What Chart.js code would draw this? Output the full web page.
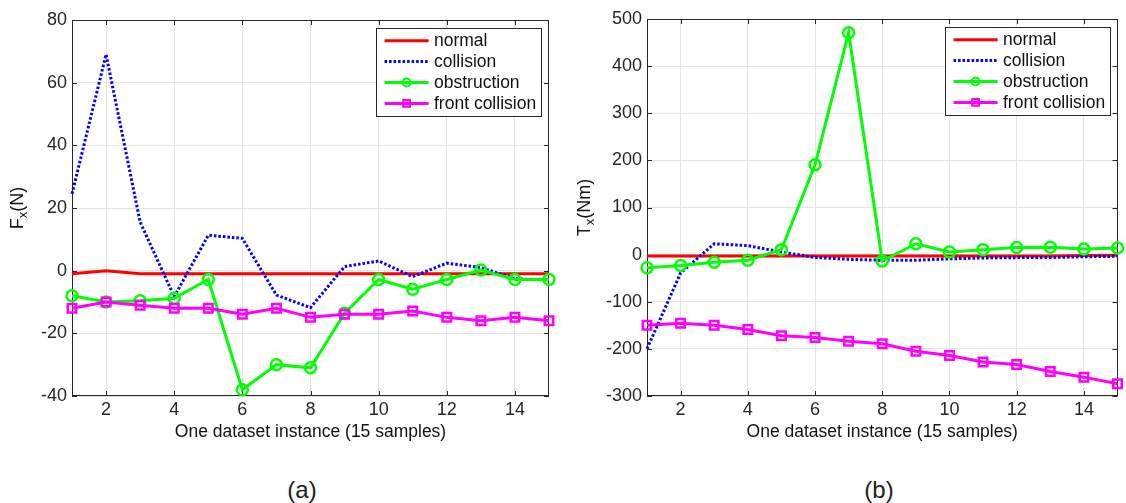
<!DOCTYPE html>
<html>
<head>
<meta charset="utf-8">
<script src="https://cdn.jsdelivr.net/npm/chart.js@4/dist/chart.umd.min.js"></script>
<style>
  html, body { margin: 0; padding: 0; background: #fff; }
  body { width: 1126px; height: 503px; position: relative; overflow: hidden; font-family: "Liberation Sans", Arial, sans-serif; }
  .panel { position: absolute; top: 0; width: 563px; height: 445px; }
  .cap { position: absolute; top: 476px; line-height: 28px; font-size: 24px; color: #222; transform: translateX(-50%); }
</style>
</head>
<body>
<div class="panel" style="left:0"><canvas id="fx" width="563" height="445"></canvas></div>
<div class="panel" style="left:563px"><canvas id="tx" width="563" height="445"></canvas></div>
<div class="cap" style="left:302px">(a)</div>
<div class="cap" style="left:879px">(b)</div>
<script>
// --- data ---
const samples = [1, 2, 3, 4, 5, 6, 7, 8, 9, 10, 11, 12, 13, 14, 15];
const seriesNames = ['normal', 'collision', 'obstruction', 'front collision'];

// (a) force Fx in N
const fxNormal      = [-1, 0, -1, -1, -1, -1, -1, -1, -1, -1, -1, -1, -1, -1, -1];
const fxCollision   = [24.5, 69, 15.5, -8.3, 11.3, 10.3, -7.8, -11.8, 1.3, 3.1, -1.9, 2.4, 1, -2.6, -3];
const fxObstruction = [-8, -10, -9.6, -8.8, -2.8, -38, -30, -31, -13.6, -2.8, -5.9, -2.8, 0.2, -2.8, -2.8];
const fxFront       = [-12, -10, -11, -12, -12, -13.9, -12, -14.9, -13.9, -13.9, -12.9, -14.9, -16, -14.9, -16];

// (b) torque Tx in Nm
const txNormal      = [-3, -3, -3, -3, -3, -3, -3, -3, -3, -3, -3, -3, -3, -2, -1.5];
const txCollision   = [-200, -39, 23, 19, 5.5, -6, -10, -12, -12, -9, -7, -6.4, -6, -4.5, -3.5];
const txObstruction = [-28, -23, -16, -12, 10.6, 190.6, 471, -13.6, 23, 5.5, 10.6, 15, 15.5, 12, 14];
const txFront       = [-150, -145.5, -150, -159, -172, -176, -184, -189, -205, -214, -228, -233, -248, -260, -274];

// tick labels
const xTickValues  = [2, 4, 6, 8, 10, 12, 14];
const fxTickValues = [-40, -20, 0, 20, 40, 60, 80];
const txTickValues = [-300, -200, -100, 0, 100, 200, 300, 400, 500];

const FONT = '"Liberation Sans", Arial, sans-serif';
const AXIS_COLOR = '#262626';

// line look per series (MATLAB style: solid, dotted, -o, -s)
const styles = [
  { color: '#ff0000', dash: [], pointStyle: false, radius: 0, order: 4 },
  { color: '#0000ff', dash: [2.5, 2], pointStyle: false, radius: 0, order: 3 },
  { color: '#00ff00', dash: [], pointStyle: 'circle', radius: 5.5, order: 2 },
  { color: '#ff00ff', dash: [], pointStyle: 'rect', radius: 6, order: 1 }
];

function toPoints(values) {
  return values.map((v, i) => ({ x: samples[i], y: v }));
}

// box, inward ticks, legend and y-title with subscript
const matlabAxes = {
  id: 'matlabAxes',
  beforeDatasetsDraw(chart) {
    const { ctx, chartArea: a, scales: { x, y } } = chart;
    ctx.save();
    ctx.strokeStyle = AXIS_COLOR;
    ctx.lineWidth = 1;
    ctx.beginPath();
    x.ticks.forEach(t => {
      const px = Math.round(x.getPixelForValue(t.value)) + 0.5;
      ctx.moveTo(px, a.bottom); ctx.lineTo(px, a.bottom - 5);
      ctx.moveTo(px, a.top); ctx.lineTo(px, a.top + 5);
    });
    y.ticks.forEach(t => {
      const py = Math.round(y.getPixelForValue(t.value)) + 0.5;
      ctx.moveTo(a.left, py); ctx.lineTo(a.left + 5, py);
      ctx.moveTo(a.right, py); ctx.lineTo(a.right - 5, py);
    });
    ctx.stroke();
    ctx.strokeRect(Math.round(a.left) + 0.5, Math.round(a.top) + 0.5,
                   Math.round(a.width) - 1, Math.round(a.height) - 1);
    ctx.restore();
  },
  afterDraw(chart, args, opts) {
    const { ctx, chartArea: a } = chart;
    ctx.save();

    // legend box
    const bw = 165, bh = 88;
    const bx = Math.round(a.right - 8 - bw), by = Math.round(a.top + 7.5);
    ctx.fillStyle = '#fff';
    ctx.fillRect(bx, by, bw, bh);
    ctx.strokeStyle = AXIS_COLOR;
    ctx.lineWidth = 1;
    ctx.strokeRect(bx + 0.5, by + 0.5, bw, bh);
    ctx.font = '17.5px ' + FONT;
    ctx.textBaseline = 'middle';
    ctx.textAlign = 'left';
    chart.data.datasets.forEach((ds, i) => {
      const ry = by + 12.7 + i * 20.9;
      const x0 = bx + 8.6, x1 = bx + 52.6, mx = (x0 + x1) / 2;
      ctx.strokeStyle = ds.borderColor;
      ctx.lineWidth = ds.borderWidth;
      ctx.setLineDash(ds.borderDash || []);
      ctx.beginPath(); ctx.moveTo(x0, ry); ctx.lineTo(x1, ry); ctx.stroke();
      ctx.setLineDash([]);
      ctx.lineWidth = 2.2;
      if (ds.pointStyle === 'circle') {
        ctx.beginPath(); ctx.arc(mx, ry, 4, 0, Math.PI * 2); ctx.stroke();
      } else if (ds.pointStyle === 'rect') {
        ctx.strokeRect(mx - 3.3, ry - 3.3, 6.6, 6.6);
      }
      ctx.fillStyle = '#111';
      ctx.fillText(ds.label, bx + 58, ry + 0.5);
    });

    // rotated y title: main + subscript + unit
    const t = opts.yTitle;
    const cy = (a.top + a.bottom) / 2;
    const big = '18px ' + FONT, small = '13px ' + FONT;
    ctx.font = big; const w1 = ctx.measureText(t.main).width; const w3 = ctx.measureText(t.unit).width;
    ctx.font = small; const w2 = ctx.measureText(t.sub).width;
    ctx.translate(t.x, cy);
    ctx.rotate(-Math.PI / 2);
    let sx = -(w1 + w2 + w3) / 2;
    ctx.fillStyle = '#111';
    ctx.font = big; ctx.fillText(t.main, sx, 0); sx += w1;
    ctx.font = small; ctx.fillText(t.sub, sx, 5); sx += w2;
    ctx.font = big; ctx.fillText(t.unit, sx, 0);
    ctx.restore();
  }
};

function makeChart(id, seriesValues, yMin, yMax, yTicks, yTitle, yAxisWidth, padTop, padRight) {
  const datasets = seriesValues.map((vals, i) => ({
    label: seriesNames[i],
    data: toPoints(vals),
    borderColor: styles[i].color,
    backgroundColor: 'rgba(0,0,0,0)',
    borderWidth: 3,
    borderDash: styles[i].dash,
    borderCapStyle: 'butt',
    pointStyle: styles[i].pointStyle || 'circle',
    pointRadius: styles[i].radius,
    pointBorderWidth: 2.5,
    pointBorderColor: styles[i].color,
    pointBackgroundColor: 'rgba(0,0,0,0)',
    tension: 0,
    order: styles[i].order,
    clip: 8
  }));
  datasets.forEach((d, i) => { if (!styles[i].pointStyle) d.pointStyle = false; });

  return new Chart(document.getElementById(id), {
    type: 'line',
    data: { datasets },
    plugins: [matlabAxes],
    options: {
      responsive: false,
      animation: false,
      events: [],
      layout: { padding: { top: padTop, right: padRight, left: 0, bottom: 0 } },
      plugins: {
        legend: { display: false },
        tooltip: { enabled: false },
        matlabAxes: { yTitle }
      },
      scales: {
        x: {
          type: 'linear',
          position: 'bottom',
          min: 1,
          max: 15,
          afterBuildTicks: s => { s.ticks = xTickValues.map(v => ({ value: v })); },
          afterFit: s => { s.height = 49; },
          border: { display: false },
          grid: { color: '#e4e4e4', lineWidth: 1, drawTicks: false },
          ticks: { color: AXIS_COLOR, padding: 3, font: { family: FONT, size: 18 } },
          title: {
            display: true,
            text: 'One dataset instance (15 samples)',
            color: '#111',
            font: { family: FONT, size: 17.5 },
            padding: { top: 0, bottom: 2.5 }
          }
        },
        y: {
          type: 'linear',
          position: 'left',
          min: yMin,
          max: yMax,
          afterBuildTicks: s => { s.ticks = yTicks.map(v => ({ value: v })); },
          afterFit: s => { s.width = yAxisWidth; },
          border: { display: false },
          grid: { color: '#e4e4e4', lineWidth: 1, drawTicks: false },
          ticks: { color: AXIS_COLOR, padding: 5, font: { family: FONT, size: 18 } }
        }
      }
    }
  });
}

makeChart('fx', [fxNormal, fxCollision, fxObstruction, fxFront], -40, 80, fxTickValues,
  { main: 'F', sub: 'x', unit: '(N)', x: 18 }, 72, 20, 14);
makeChart('tx', [txNormal, txCollision, txObstruction, txFront], -300, 500, txTickValues,
  { main: 'T', sub: 'x', unit: '(Nm)', x: 22 }, 84, 19, 1);
</script>
</body>
</html>
